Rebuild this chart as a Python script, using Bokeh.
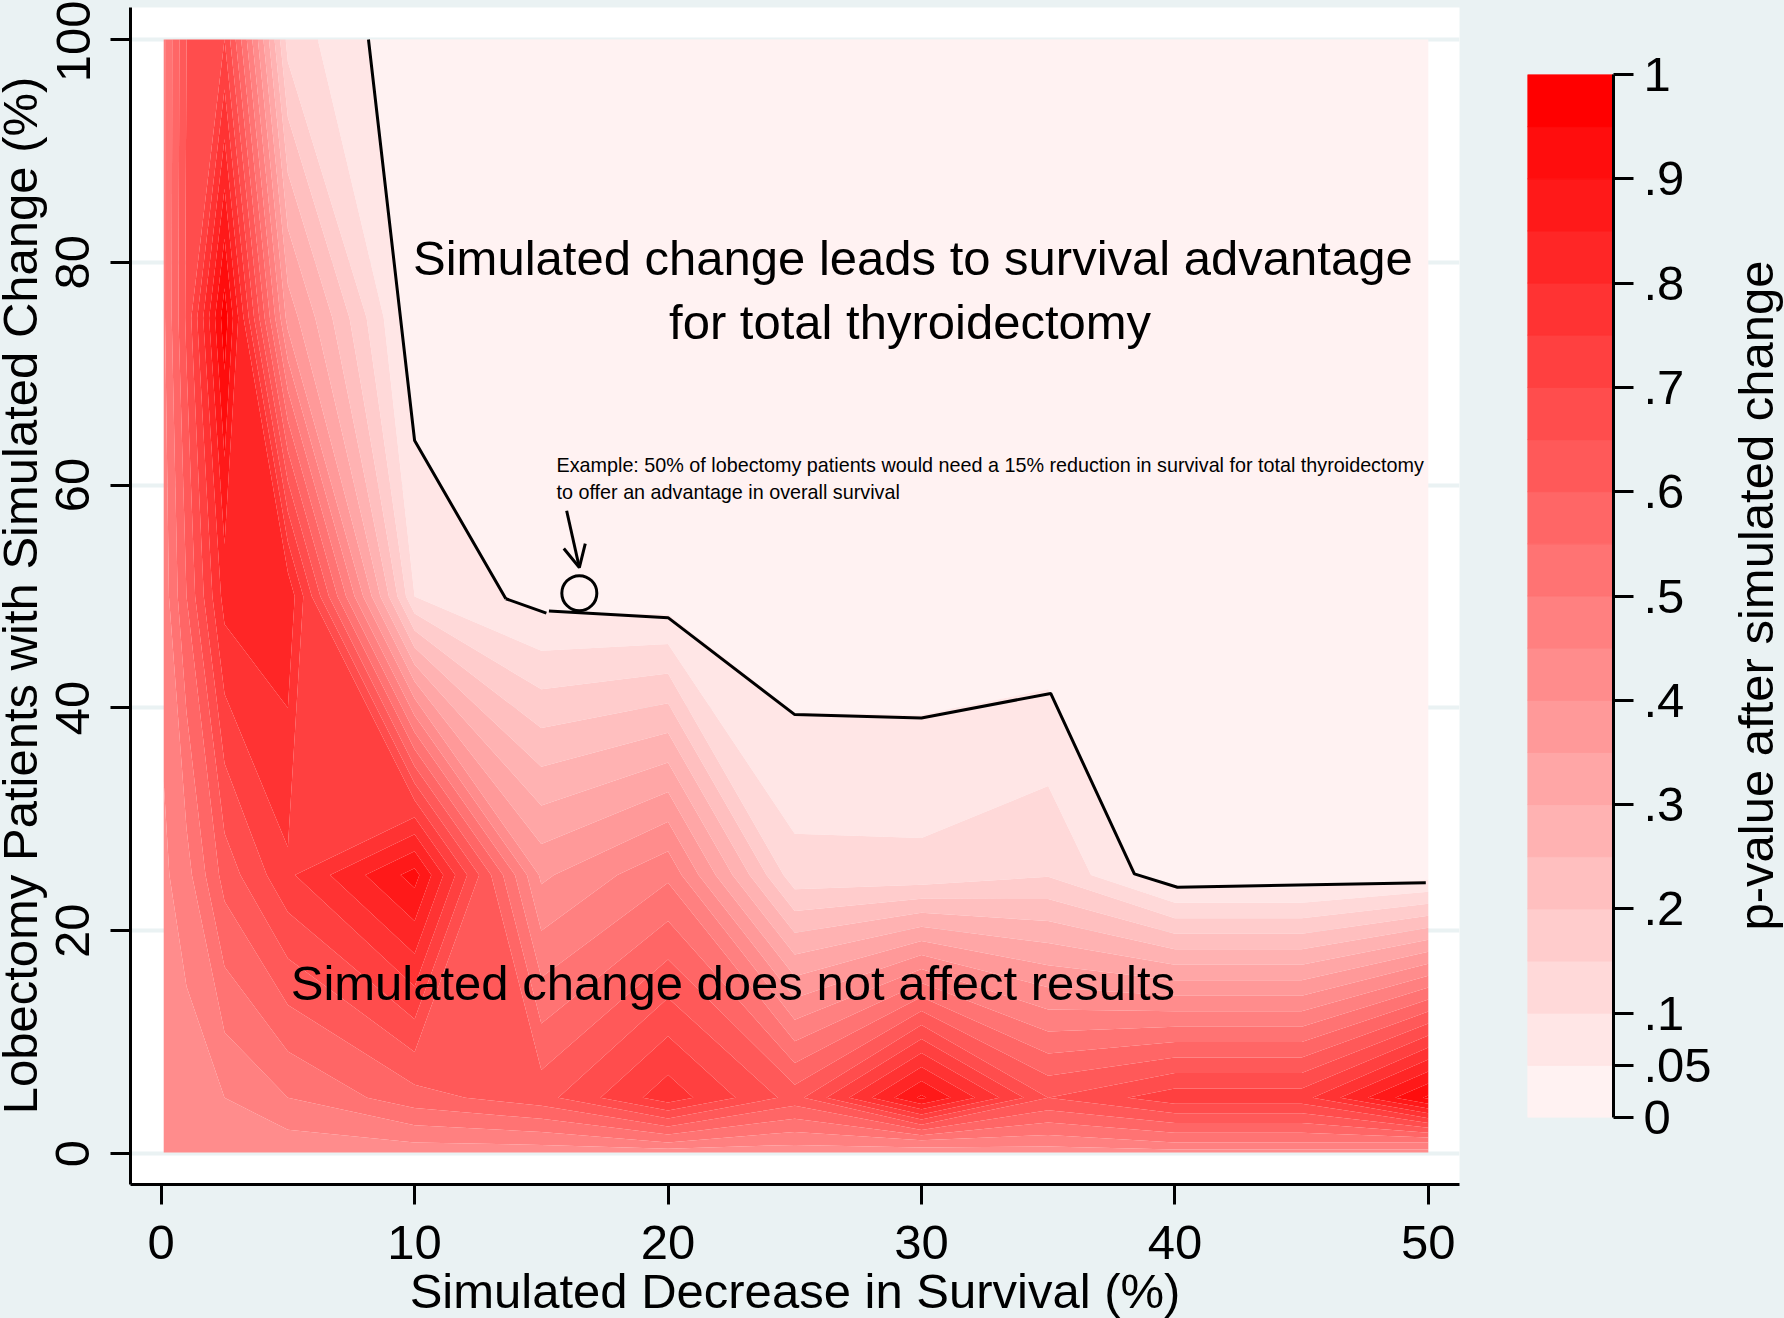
import math
from bokeh.plotting import figure
from bokeh.layouts import row, column
from bokeh.embed import file_html
from bokeh.resources import INLINE
from bokeh.core.properties import value
from bokeh.models import FixedTicker, Arrow, OpenHead, Range1d

FONT = "Liberation Sans"
BG = "#eaf2f3"

# grid of the contour surface (p-value after simulated change)
x_nodes = [0.1, 1, 2.5, 5, 10, 15, 20, 25, 30, 35, 40, 45, 50]
y_nodes = [0.1, 1, 5, 25, 50, 75, 100]
z_y0   = [.42, .42, .42, .42, .42, .42, .42, .42, .42, .42, .43, .43, .43]
z_y1   = [.42, .42, .43, .43, .45, .46, .50, .46, .48, .47, .50, .50, .50]
z_y5   = [.42, .42, .45, .50, .58, .63, .78, .63, .91, .65, .73, .73, .96]
z_y25  = [.44, .48, .62, .74, .92, .39, .49, .117, .115, .146, .01, .01, .03]
z_y50  = [.47, .60, .82, .84, .10, .03, .02, .002, .002, .002, .002, .002, .002]
z_y75  = [.49, .66, .98, .38, .01, .002, .002, .002, .002, .002, .002, .002, .002]
z_y100 = [.49, .65, .70, .13, .003, .002, .002, .002, .002, .002, .002, .002, .002]
z_rows = [z_y0, z_y1, z_y5, z_y25, z_y50, z_y75, z_y100]

levels = [i / 20 for i in range(21)]
x_ticks = [0, 10, 20, 30, 40, 50]
y_ticks = [0, 20, 40, 60, 80, 100]
cb_ticks = [0, 0.05, 0.1, 0.2, 0.3, 0.4, 0.5, 0.6, 0.7, 0.8, 0.9, 1]
cb_labels = ["0", ".05", ".1", ".2", ".3", ".4", ".5", ".6", ".7", ".8", ".9", "1"]

x_title = "Simulated Decrease in Survival (%)"
y_title = "Lobectomy Patients with Simulated Change (%)"
cb_title = "p-value after simulated change"

# boundary of the p = .05 region
line_a_x = [8.18, 10, 13.6]
line_a_y = [100, 64, 49.8]
line_b_x = [13.6, 15.2]
line_b_y = [49.8, 48.5]
line_c_x = [15.3, 20, 25, 30, 35.1, 38.4, 40.1, 49.9]
line_c_y = [48.7, 48.1, 39.4, 39.1, 41.3, 25.1, 23.9, 24.3]

example_x = [16.5]
example_y = [50.3]
arrow_from = (16.0, 57.7)
arrow_to = (16.5, 52.6)

colors = ["#ff%02x%02x" % (round(255 * (1 - k / 20)), round(255 * (1 - k / 20))) for k in range(1, 21)]

TICK_FS = "49px"
TITLE_FS = "49px"
W_LEFT, W_RIGHT, H_BOTTOM = 48, 54, 48
BASELINE_SHIFT = 18

def style_axis(ax, ticks):
    ax.ticker = FixedTicker(ticks=ticks)
    ax.axis_line_color = "black"
    ax.axis_line_width = 3
    ax.major_tick_line_color = "black"
    ax.major_tick_line_width = 3
    ax.major_tick_out = 20
    ax.major_tick_in = 0
    ax.minor_tick_line_color = None
    ax.major_label_text_font = FONT
    ax.major_label_text_font_size = TICK_FS
    ax.major_label_text_color = "black"

def strip(width, height, text, x, y, angle):
    s = figure(width=width, height=height, output_backend="svg", toolbar_location=None,
               x_range=Range1d(0, width), y_range=Range1d(0, height),
               x_axis_location=None, y_axis_location=None, min_border=0,
               background_fill_color=BG, border_fill_color=BG, outline_line_color=None,
               frame_align=False)
    s.grid.visible = False
    s.text([x], [y], text=[text], angle=angle, text_font=value(FONT), text_font_size=TITLE_FS,
           text_color="black", text_align="center", text_baseline="alphabetic")
    return s

p = figure(width=1480 - W_LEFT, height=1318 - H_BOTTOM, output_backend="svg", toolbar_location=None,
           x_range=Range1d(-1.21, 51.23), y_range=Range1d(-2.78, 102.87),
           min_border_left=130 - W_LEFT, min_border_right=21, min_border_top=7, min_border_bottom=134 - H_BOTTOM,
           background_fill_color="white", border_fill_color=BG, outline_line_color=None,
           frame_align=False)
p.xgrid.visible = False
p.ygrid.ticker = FixedTicker(ticks=y_ticks)
p.ygrid.grid_line_color = BG
p.ygrid.grid_line_width = 4

p.contour(x_nodes, y_nodes, z_rows, levels, fill_color=colors, line_color=None)

for lx, ly in ((line_a_x, line_a_y), (line_b_x, line_b_y), (line_c_x, line_c_y)):
    p.line(lx, ly, line_color="black", line_width=3)
p.scatter(example_x, example_y, marker="circle", size=35, fill_color=None, line_color="black", line_width=3)
p.add_layout(Arrow(end=OpenHead(size=22, line_color="black", line_width=3),
                   x_start=arrow_from[0], y_start=arrow_from[1], x_end=arrow_to[0], y_end=arrow_to[1],
                   line_color="black", line_width=3))

p.text([29.66, 29.55, 22.56], [80.4, 74.6, 15.3],
       text=["Simulated change leads to survival advantage", "for total thyroidectomy",
             "Simulated change does not affect results"],
       text_font=value(FONT), text_font_size="49px", text_color="black",
       text_align="center", text_baseline="middle")
p.text([15.6, 15.6], [61.8, 59.4],
       text=["Example: 50% of lobectomy patients would need a 15% reduction in survival for total thyroidectomy",
             "to offer an advantage in overall survival"],
       text_font=value(FONT), text_font_size="19.75px", text_color="black",
       text_align="left", text_baseline="middle")

style_axis(p.xaxis[0], x_ticks)
style_axis(p.yaxis[0], y_ticks)
p.xaxis[0].major_label_standoff = 21
p.yaxis[0].major_label_orientation = "vertical"
p.yaxis[0].major_label_standoff = 21

cb = figure(width=304 - W_RIGHT, height=1318, output_backend="svg", toolbar_location=None,
            x_range=Range1d(0, 1), y_range=Range1d(0, 1), y_axis_location="right",
            min_border_left=47, min_border_right=171 - W_RIGHT, min_border_top=74, min_border_bottom=201,
            background_fill_color=BG, border_fill_color=BG, outline_line_color=None,
            frame_align=False)
cb.grid.visible = False
cb.xaxis.visible = False
cb.quad(left=0, right=1, bottom=levels[:-1], top=levels[1:], fill_color=colors, line_color=colors)
style_axis(cb.yaxis[0], cb_ticks)
cb.yaxis[0].major_label_overrides = dict(zip(cb_ticks, cb_labels))
cb.yaxis[0].major_label_standoff = 10

left_strip = strip(W_LEFT, 1318, y_title, 37 - BASELINE_SHIFT, 1318 - 595, math.pi / 2)
right_strip = strip(W_RIGHT, 1318, cb_title, 1773 - 1730 - BASELINE_SHIFT, 1318 - 595, math.pi / 2)
bottom_strip = strip(1480 - W_LEFT, H_BOTTOM, x_title, 794.5 - W_LEFT, 10 + BASELINE_SHIFT, 0)

page = row(left_strip, column(p, bottom_strip, spacing=0), cb, right_strip, spacing=0, styles={"background": BG})
open("out.html", "w").write(file_html(page, INLINE))
